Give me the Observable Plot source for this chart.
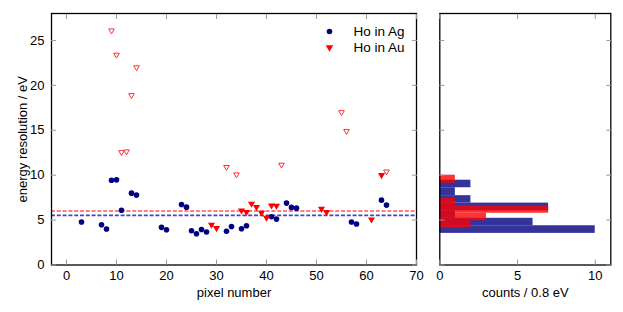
<!DOCTYPE html>
<html>
<head>
<meta charset="utf-8">
<script src="https://cdn.jsdelivr.net/npm/d3@7"></script>
<script src="https://cdn.jsdelivr.net/npm/@observablehq/plot@0.6"></script>
<style>
  html, body { margin: 0; padding: 0; background: #fff; }
  #wrap { position: relative; width: 623px; height: 312px; }
  #wrap > * { position: absolute; top: 0; }
</style>
</head>
<body>
<div id="wrap"></div>
<script>
// ---- data ----
const agPixel = [3, 7, 8, 9, 10, 11, 13, 14, 19, 20, 23, 24, 25, 26, 27, 28, 32, 33, 35, 36, 41, 42, 44, 45, 46, 57, 58, 63, 64];
const agRes   = [4.78, 4.48, 4.0, 9.44, 9.48, 6.1, 8.0, 7.78, 4.19, 3.93, 6.74, 6.44, 3.81, 3.48, 3.96, 3.67, 3.76, 4.28, 4.04, 4.37, 5.37, 5.11, 6.89, 6.41, 6.33, 4.78, 4.56, 7.22, 6.67];

const auPixel = [29, 30, 35, 36, 37, 38, 39, 40, 41, 42, 51, 52, 61, 63];
const auRes   = [4.48, 4.11, 6.07, 5.89, 6.82, 6.44, 5.82, 5.26, 6.63, 6.59, 6.26, 5.89, 5.07, 10.0];

const auOutPixel = [9, 10, 11, 12, 13, 14, 32, 34, 43, 55, 56, 64];
const auOutRes   = [26.1, 23.4, 12.55, 12.63, 18.9, 22.0, 10.9, 10.07, 11.15, 17.0, 14.9, 10.4];

const agMean = 5.52;
const auMean = 6.02;

const agHistEdges  = [3.52, 4.37, 5.2, 6.03, 6.89, 7.72, 8.6, 9.44];
const agHistCounts = [10, 6, 1, 7, 2, 1, 2];
const auHistEdges  = [4.07, 4.93, 5.76, 6.6, 7.43, 8.27, 9.1, 10.0];
const auHistCounts = [2, 3, 7, 1, 0, 0, 1];

const xTicks = [0, 10, 20, 30, 40, 50, 60, 70];
const yTicks = [0, 5, 10, 15, 20, 25];
const hxTicks = [0, 5, 10];
const legendLabels = ["Ho in Ag", "Ho in Au"];

// ---- helpers ----
const triDown = {
  draw(ctx, size) {
    const s = Math.sqrt(size) * 0.6824, t = s / 2, u = s * Math.sqrt(3) / 2;
    ctx.moveTo(0, s); ctx.lineTo(u, -t); ctx.lineTo(-u, -t); ctx.closePath();
  }
};
const pts = (xs, ys) => xs.map((x, i) => ({x, y: ys[i]}));
const bins = (edges, counts) => counts.map((c, i) => ({y1: edges[i], y2: edges[i + 1], c}));

const font = "'Liberation Sans', Arial, Helvetica, sans-serif";
const BLUE = "#000080", RED = "#ff0000";
const tickColor = "#999";

// ---- main scatter ----
const main = Plot.plot({
  width: 430, height: 312,
  marginLeft: 51, marginRight: 14, marginTop: 13, marginBottom: 47.5,
  style: {fontFamily: font, fontSize: "13px", color: "#000", background: "transparent", overflow: "visible"},
  x: {domain: [-3, 70]},
  y: {domain: [0, 28]},
  marks: [
    Plot.ruleY([auMean], {stroke: "#ff5555", strokeWidth: 1.6, strokeDasharray: "4,1.8"}),
    Plot.ruleY([agMean], {stroke: "#4646c0", strokeWidth: 1.6, strokeDasharray: "4,1.8"}),
    Plot.dot(pts(agPixel, agRes), {x: "x", y: "y", r: 2.8, fill: BLUE, stroke: "none", symbol: "circle"}),
    Plot.dot(pts(auPixel, auRes), {x: "x", y: "y", r: 3.4, fill: RED, stroke: "none", symbol: triDown}),
    Plot.dot(pts(auOutPixel, auOutRes), {x: "x", y: "y", r: 2.7, fill: "white", stroke: "#ff3030", strokeWidth: 1, symbol: triDown}),
    // legend
    Plot.dot([legendLabels[0]], {x: null, y: null, frameAnchor: "top-right", dx: -87, dy: 18, r: 2.8, symbol: "circle", fill: BLUE, stroke: "none"}),
    Plot.dot([legendLabels[1]], {x: null, y: null, frameAnchor: "top-right", dx: -87, dy: 34, r: 3.6, symbol: triDown, fill: RED, stroke: "none"}),
    Plot.text([legendLabels[0]], {x: null, y: null, text: d => d, frameAnchor: "top-right", dx: -63, dy: 18, textAnchor: "start", lineAnchor: "middle", fontSize: 13.5, fill: "#000"}),
    Plot.text([legendLabels[1]], {x: null, y: null, text: d => d, frameAnchor: "top-right", dx: -63, dy: 34, textAnchor: "start", lineAnchor: "middle", fontSize: 13.5, fill: "#000"}),
    Plot.frame({stroke: "#000", strokeWidth: 1.3}),
    // tick marks inside the frame
    Plot.axisX({anchor: "bottom", ticks: xTicks, tickSize: 5, dy: -5, tickFormat: () => "", label: null, stroke: tickColor}),
    Plot.axisX({anchor: "top", ticks: xTicks, tickSize: 5, dy: 5, tickFormat: () => "", label: null, stroke: tickColor}),
    Plot.axisY({anchor: "left", ticks: yTicks, tickSize: 5, dx: 5, tickFormat: () => "", label: null, stroke: tickColor}),
    Plot.axisY({anchor: "right", ticks: yTicks, tickSize: 5, dx: -5, tickFormat: () => "", label: null, stroke: tickColor}),
    // labels
    Plot.axisX({anchor: "bottom", ticks: xTicks, tickSize: 0, tickPadding: 6, label: "pixel number", labelAnchor: "center", labelOffset: 32, labelArrow: "none", fill: "#000"}),
    Plot.axisY({anchor: "left", ticks: yTicks, tickSize: 0, tickPadding: 7, label: "energy resolution / eV", labelAnchor: "center", labelOffset: 34, labelArrow: "none", fill: "#000"})
  ]
});

const hist = Plot.plot({
  width: 193, height: 312,
  marginLeft: 9.3, marginRight: 12.7, marginTop: 13, marginBottom: 47.5,
  style: {fontFamily: font, fontSize: "13px", color: "#000", background: "transparent", overflow: "visible"},
  x: {domain: [0, 11]},
  y: {domain: [0, 28]},
  marks: [
    Plot.rectX(bins(agHistEdges, agHistCounts), {y1: "y1", y2: "y2", x1: 0, x2: "c", fill: "#333399"}),
    Plot.rectX(bins(auHistEdges, auHistCounts), {y1: "y1", y2: "y2", x1: 0, x2: "c", fill: RED, fillOpacity: 0.8}),
    Plot.frame({stroke: "#000", strokeWidth: 1.3}),
    Plot.axisX({anchor: "bottom", ticks: hxTicks, tickSize: 5, dy: -5, tickFormat: () => "", label: null, stroke: tickColor}),
    Plot.axisX({anchor: "top", ticks: hxTicks, tickSize: 5, dy: 5, tickFormat: () => "", label: null, stroke: tickColor}),
    Plot.axisY({anchor: "left", ticks: yTicks, tickSize: 5, dx: 5, tickFormat: () => "", label: null, stroke: tickColor}),
    Plot.axisY({anchor: "right", ticks: yTicks, tickSize: 5, dx: -5, tickFormat: () => "", label: null, stroke: tickColor}),
    Plot.axisX({anchor: "bottom", ticks: hxTicks, tickSize: 0, tickPadding: 6, label: "counts / 0.8 eV", labelAnchor: "center", labelOffset: 32, labelArrow: "none", fill: "#000"})
  ]
});

main.style.left = "0px";
hist.style.left = "430px";
document.getElementById("wrap").append(main, hist);
</script>
</body>
</html>
